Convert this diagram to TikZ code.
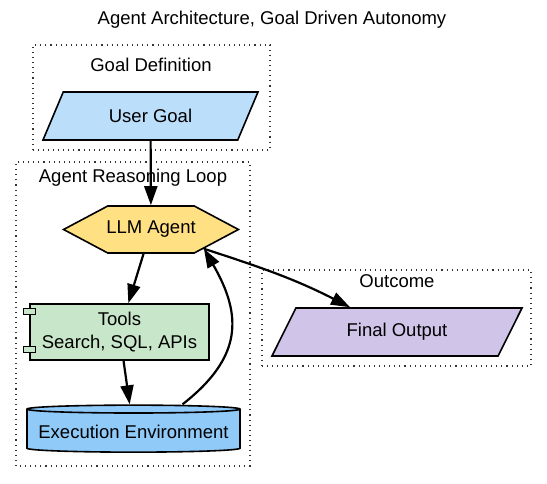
\documentclass[tikz,border=0pt]{standalone}
\usepackage{fontspec}
\setmainfont{Liberation Sans}
\usetikzlibrary{positioning}
\usetikzlibrary{graphs}
\usetikzlibrary{arrows.meta}
\usetikzlibrary{shapes.geometric,shapes.symbols}
\definecolor{goalblue}{HTML}{BBDEFB}
\definecolor{agentamber}{HTML}{FFE082}
\definecolor{toolgreen}{HTML}{C8E6C9}
\definecolor{envblue}{HTML}{90CAF9}
\definecolor{outpurple}{HTML}{D1C4E9}

\begin{document}
\begin{tikzpicture}[x=1pt,y=1pt,
      font=\fontsize{18.5}{22.5}\selectfont,
      >={Triangle[length=19pt,width=13pt]},
      cluster/.style={draw=black!80,line width=1.2pt,dash pattern=on 1.1pt off 4pt},
      io/.style={trapezium,trapezium left angle=45,trapezium right angle=135,
        trapezium stretches body,draw=black,line width=1.6pt,minimum height=48pt},
      agent/.style={signal,signal to=west and east,signal pointer angle=56,inner xsep=-1.5pt,
        draw=black,line width=1.6pt,fill=agentamber,minimum height=47pt},
      tool/.style={rectangle,draw=black,line width=1.6pt,fill=toolgreen,align=center,
        minimum width=179pt,minimum height=56pt},
      store/.style={cylinder,shape border rotate=90,aspect=0.04,draw=black,line width=1.6pt,
        fill=envblue,minimum width=213pt,minimum height=47pt},
      flow/.style={->,line width=2.2pt}]
\useasboundingbox (0,0) rectangle (547,483);
\node (title) at (272,463) {Agent Architecture, Goal Driven Autonomy};
% clusters
\draw [cluster] (33,333) rectangle (270,438);
\node (goallabel) at (151,418) {Goal Definition};
\draw [cluster] (16,17) rectangle (250,321);
\node (looplabel) at (133,305) {Agent Reasoning Loop};
\draw [cluster] (262,117) rectangle (531,213);
\node (outlabel) at (397,202) {Outcome};
% nodes
\node (goal) [io,fill=goalblue,minimum width=215pt] at (150.5,367) {User Goal};
\node (llm) [agent] at (151,253.5) {LLM Agent};
\node (tools) [tool] at (119.5,151) {Tools\\Search, SQL, APIs};
\draw [draw=black,line width=1.3pt,fill=toolgreen]
  ([xshift=-6pt,yshift=-5pt]tools.north west) rectangle ++(12,-6)
  ([xshift=-6pt,yshift=8pt]tools.south west) rectangle ++(12,6);
\node (exec) [store] at (133.5,51.5) {Execution Environment};
\node (output) [io,fill=outpurple,minimum width=250pt] at (397,151) {Final Output};
% edges
\graph [edges={line width=2.2pt}] {
  (goal) -> (llm) -> (tools) -> (exec);
};
\draw [flow] ([xshift=49pt]exec.north) to[out=38,in=-60,looseness=1.25] (llm.-20);
\draw [flow] (llm.-20) to[out=-18,in=153] ([xshift=-47pt]output.north);
\end{tikzpicture}
\end{document}
